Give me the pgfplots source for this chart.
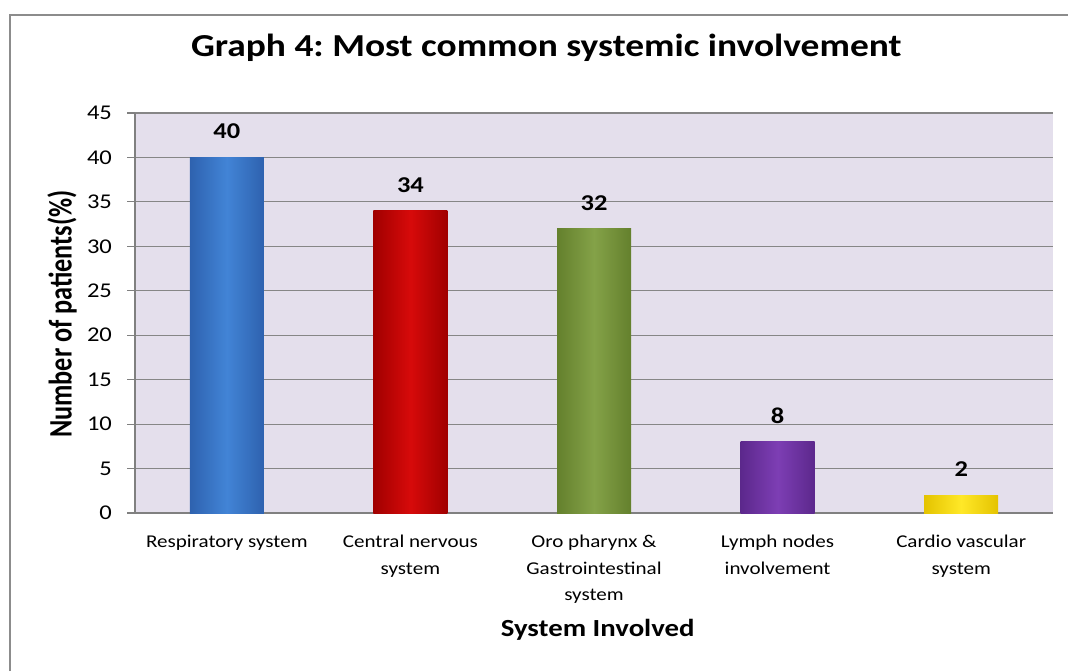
\documentclass[border=0pt]{standalone}
\usepackage{pgfplots}
\pgfplotsset{compat=1.18}
\usepackage{fontspec}
\setmainfont{Carlito}[FakeStretch=1.17]
\newfontfamily\plainfont{Carlito}
\usepackage{graphicx}
\definecolor{bgc}{RGB}{228,223,236}
\definecolor{gridc}{RGB}{134,134,134}
\definecolor{axc}{RGB}{128,128,128}
\definecolor{framec}{RGB}{140,140,140}
\definecolor{blueE}{RGB}{46,98,175}
\definecolor{blueM}{RGB}{66,132,214}
\definecolor{redE}{RGB}{160,0,0}
\definecolor{redM}{RGB}{215,10,10}
\definecolor{greenE}{RGB}{100,128,45}
\definecolor{greenM}{RGB}{132,162,72}
\definecolor{purpE}{RGB}{92,40,140}
\definecolor{purpM}{RGB}{125,62,180}
\definecolor{yelE}{RGB}{228,195,0}
\definecolor{yelM}{RGB}{255,232,40}
\frenchspacing
\begin{document}
\begin{tikzpicture}
\path[use as bounding box] (0,0) rectangle (534pt,335.5pt);
\draw[line width=1pt, color=framec] (5pt,0) -- (5pt,328pt) -- (534pt,328pt);
\begin{axis}[
  at={(67.5pt,79pt)}, anchor=south west,
  scale only axis, width=459pt, height=200pt,
  xmin=-0.5, xmax=4.5, ymin=0, ymax=45,
  ytick={0,5,...,45},
  xtick={0,1,2,3,4},
  xticklabels={Respiratory system, {Central nervous\\system}, {Oro pharynx \&\\Gastrointestinal\\system}, {Lymph nodes\\involvement}, {Cardio vascular\\system}},
  xticklabel style={align=center, font=\fontsize{9}{13.25}\selectfont, yshift=-3.5pt},
  yticklabel style={font=\fontsize{10.5}{13}\selectfont, xshift=-4pt},
  /pgf/number format/assume math mode=true,
  ybar, bar width=37pt,
  axis background/.style={fill=bgc},
  ymajorgrids, grid style={gridc, line width=0.6pt},
  axis x line*=bottom, axis y line*=left,
  axis line style={-, draw=axc, line width=0.8pt},
  tick align=outside, major tick length=4pt,
  xtick style={draw=none}, ytick style={draw=axc, line width=0.6pt},
  title={Graph 4: Most common systemic involvement},
  title style={at={(axis description cs:0.448,1.1325)}, anchor=center, yshift=0pt, font=\bfseries\fontsize{16}{19}\selectfont},
  ylabel={\scalebox{1}[1.25]{\plainfont\bfseries Number of patients(\%)}},
  ylabel style={at={(axis description cs:-0.0795,0.4975)}, anchor=center, font=\fontsize{13.1}{15}\selectfont},
  xlabel={System Involved},
  xlabel style={at={(axis description cs:0.504,-0.2925)}, anchor=center, font=\bfseries\fontsize{12.3}{14}\selectfont},
  nodes near coords,
  nodes near coords style={anchor=south, inner sep=0pt, yshift=9pt, text=black, font=\bfseries\fontsize{11.3}{13}\selectfont, /pgf/number format/assume math mode=true},
]
\addplot[bar shift=0pt, draw=none, left color=blueE, right color=blueE, middle color=blueM] coordinates {(0,40)};
\addplot[bar shift=0pt, draw=none, left color=redE, right color=redE, middle color=redM] coordinates {(1,34)};
\addplot[bar shift=0pt, draw=none, left color=greenE, right color=greenE, middle color=greenM] coordinates {(2,32)};
\addplot[bar shift=0pt, draw=none, left color=purpE, right color=purpE, middle color=purpM] coordinates {(3,8)};
\addplot[bar shift=0pt, draw=none, left color=yelE, right color=yelE, middle color=yelM] coordinates {(4,2)};
\end{axis}
\end{tikzpicture}
\end{document}
